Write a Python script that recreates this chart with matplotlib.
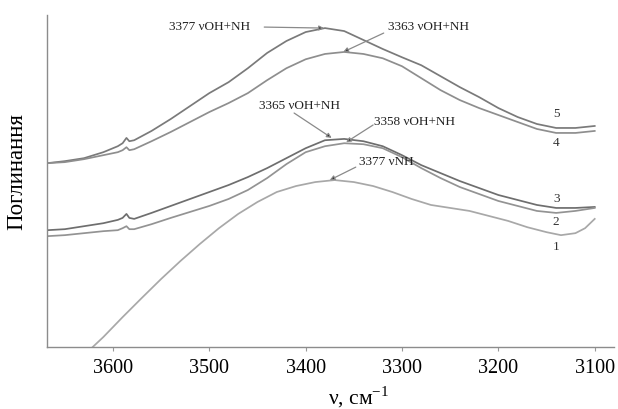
import matplotlib
matplotlib.use("Agg")
import matplotlib.pyplot as plt

plt.rcParams["font.family"] = ["Liberation Serif", "DejaVu Serif"]
plt.rcParams["mathtext.fontset"] = "custom"
plt.rcParams["mathtext.rm"] = "Liberation Serif"

# wavenumber grid (cm-1) at which the upper curves were read
wn_up = [3668, 3650, 3630, 3610, 3595, 3590, 3586, 3583, 3578, 3560, 3540, 3520, 3500,
         3480, 3460, 3440, 3420, 3400, 3380, 3360, 3340, 3320, 3300, 3280, 3260,
         3240, 3220, 3200, 3180, 3160, 3140, 3120, 3100]

# absorbance, arbitrary units
ab5 = [0.554, 0.560, 0.569, 0.587, 0.605, 0.614, 0.630, 0.620, 0.623, 0.651, 0.687, 0.726, 0.765,
       0.798, 0.840, 0.886, 0.922, 0.949, 0.961, 0.952, 0.925, 0.898, 0.873, 0.849, 0.816,
       0.783, 0.753, 0.720, 0.693, 0.672, 0.660, 0.660, 0.666]
ab4 = [0.554, 0.557, 0.566, 0.578, 0.587, 0.593, 0.602, 0.593, 0.596, 0.620, 0.648, 0.678, 0.708,
       0.735, 0.765, 0.804, 0.840, 0.867, 0.883, 0.889, 0.883, 0.870, 0.846, 0.810, 0.774,
       0.744, 0.720, 0.699, 0.678, 0.657, 0.645, 0.645, 0.651]
ab3 = [0.352, 0.355, 0.364, 0.373, 0.383, 0.389, 0.401, 0.389, 0.386, 0.404, 0.425, 0.446, 0.467,
       0.488, 0.512, 0.539, 0.569, 0.599, 0.623, 0.627, 0.620, 0.605, 0.578, 0.548, 0.524,
       0.500, 0.479, 0.458, 0.443, 0.428, 0.419, 0.419, 0.422]
ab2 = [0.334, 0.337, 0.343, 0.349, 0.352, 0.358, 0.364, 0.355, 0.355, 0.370, 0.389, 0.407, 0.425,
       0.446, 0.473, 0.509, 0.551, 0.587, 0.605, 0.614, 0.611, 0.599, 0.572, 0.539, 0.509,
       0.482, 0.461, 0.440, 0.425, 0.410, 0.404, 0.410, 0.419]

wn1 = [3621, 3610, 3590, 3570, 3550, 3530, 3510, 3490, 3470, 3450, 3430, 3410, 3390, 3370,
       3350, 3330, 3310, 3290, 3270, 3250, 3230, 3210, 3190, 3170, 3150, 3135, 3120, 3110, 3100]
ab1 = [0.0, 0.030, 0.090, 0.148, 0.205, 0.259, 0.310, 0.358, 0.401, 0.437, 0.467, 0.485, 0.497,
       0.503, 0.497, 0.485, 0.467, 0.446, 0.428, 0.419, 0.410, 0.395, 0.380, 0.361, 0.346,
       0.337, 0.343, 0.358, 0.386]

curve_names = ["5", "4", "3", "2", "1"]
label_wn = 3140
label_ab = [0.702, 0.614, 0.446, 0.377, 0.301]

# peak labels: text, text position, arrow tail, arrow head
peak_texts = ["3377 νOH+NH", "3363 νOH+NH", "3365 νOH+NH", "3358 νOH+NH", "3377 νNH"]
text_pos = [(3458, 0.964), (3315, 0.964), (3448, 0.726), (3329, 0.678), (3345, 0.557)]
text_ha = ["right", "left", "left", "left", "left"]
arrow_from = [(3443, 0.964), (3319, 0.946), (3412, 0.705), (3330, 0.669), (3348, 0.542)]
arrow_to = [(3381, 0.961), (3361, 0.889), (3373, 0.630), (3358, 0.617), (3375, 0.503)]

fig = plt.figure(figsize=(6.18, 4.09), dpi=100)
ax = fig.add_axes([0.076, 0.1516, 0.9175, 0.8114])

ax.plot(wn_up, ab5, color="#7a7a7a", lw=1.25)
ax.plot(wn_up, ab4, color="#8e8e8e", lw=1.25)
ax.plot(wn_up, ab3, color="#6e6e6e", lw=1.25)
ax.plot(wn_up, ab2, color="#939393", lw=1.25)
ax.plot(wn1, ab1, color="#a8a8a8", lw=1.25)

for name, y in zip(curve_names, label_ab):
    ax.text(label_wn, y, name, fontsize=9.5, ha="center", va="center", color="#333333")

for txt, pos, ha, a0, a1 in zip(peak_texts, text_pos, text_ha, arrow_from, arrow_to):
    ax.text(pos[0], pos[1], txt, fontsize=9.5, ha=ha, va="center", color="#222222")
    ax.annotate("", xy=a1, xytext=a0,
                arrowprops=dict(arrowstyle="-|>", mutation_scale=7, lw=0.9,
                                edgecolor="#8a8a8a", facecolor="#222222",
                                shrinkA=0, shrinkB=0))

ax.set_xlim(3668.5, 3080)
ax.set_ylim(0, 1.0)
ax.set_xticks([3600, 3500, 3400, 3300, 3200, 3100])
ax.set_yticks([])
ax.tick_params(axis="x", labelsize=14.5, length=3, color="#999999", pad=6)

for side in ["top", "right"]:
    ax.spines[side].set_visible(False)
for side in ["left", "bottom"]:
    ax.spines[side].set_color("#8c8c8c")
    ax.spines[side].set_linewidth(1.0)

ax.set_xlabel(r"ν, см$^{-1}$", fontsize=15.5)
ax.xaxis.set_label_coords(0.55, -0.112)
ax.set_ylabel("Поглинання", fontsize=16.5)
ax.yaxis.set_label_coords(-0.035, 0.53)

fig.savefig("out.png", dpi=100)
